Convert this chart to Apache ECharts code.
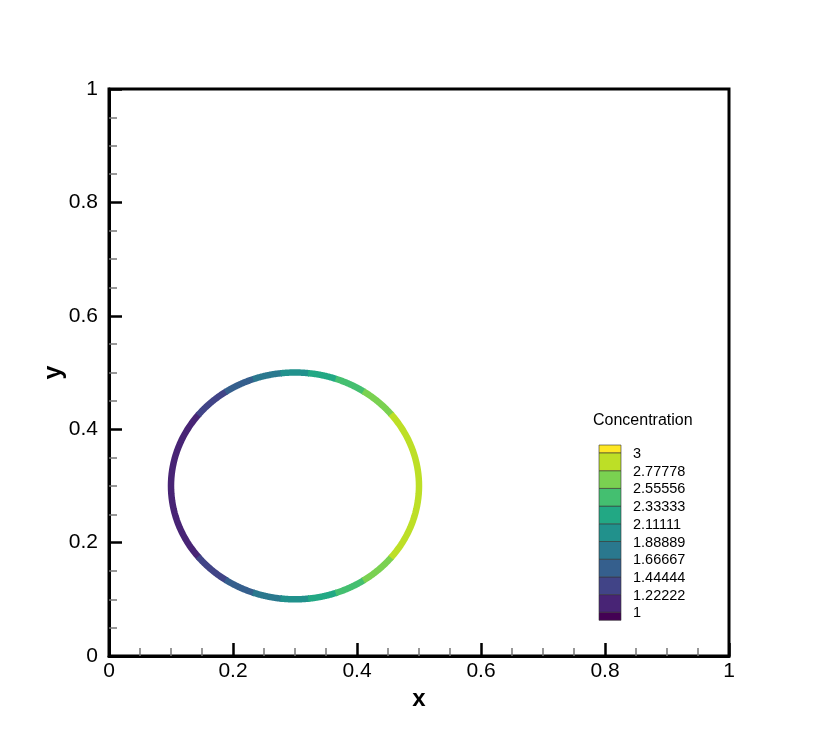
<!DOCTYPE html>
<html>
<head>
<meta charset="utf-8">
<script src="https://cdn.jsdelivr.net/npm/echarts@6/dist/echarts.min.js"></script>
<style>html,body{margin:0;padding:0;background:#fff}#c{width:830px;height:739px}</style>
</head>
<body>
<div id="c"></div>
<script>
// ---- data ----
const levels = [1, 1.22222, 1.44444, 1.66667, 1.88889, 2.11111, 2.33333, 2.55556, 2.77778, 3];
const levelLabels = ['1', '1.22222', '1.44444', '1.66667', '1.88889', '2.11111', '2.33333', '2.55556', '2.77778', '3'];
const bandColors = ['#440154', '#482475', '#414487', '#355f8d', '#2a788e', '#21918c', '#22a884', '#44bf70', '#7ad151', '#bddf26', '#fde725'];
const ringCenter = [0.3, 0.3];
const ringRadius = 0.2;
const concLeft = 1;   // concentration at left edge of ring (x = 0.1)
const concRight = 3;  // concentration at right edge of ring (x = 0.5)
const xTicks = [0, 0.2, 0.4, 0.6, 0.8, 1];
const yTicks = [0, 0.2, 0.4, 0.6, 0.8, 1];

// bands: [cLow, cHigh, colorIndex]
const bands = [];
for (let i = 0; i < levels.length - 1; i++) bands.push([levels[i], levels[i + 1], i + 1]);

const chart = echarts.init(document.getElementById('c'));

function concToX(c) {
  const t = (c - concLeft) / (concRight - concLeft);
  return ringCenter[0] - ringRadius + t * 2 * ringRadius;
}

function renderBand(params, api) {
  const cLo = api.value(0), cHi = api.value(1), ci = api.value(2);
  const xa = Math.max(-1, Math.min(1, (concToX(cLo) - ringCenter[0]) / ringRadius));
  const xb = Math.max(-1, Math.min(1, (concToX(cHi) - ringCenter[0]) / ringRadius));
  const tA = Math.acos(xa), tB = Math.acos(xb); // tB < tA
  const d = 0.006; // tiny overlap to hide seams
  const steps = 40;
  const arcPts = (t0, t1) => {
    const pts = [];
    for (let k = 0; k <= steps; k++) {
      const t = t0 + (t1 - t0) * k / steps;
      pts.push(api.coord([ringCenter[0] + ringRadius * Math.cos(t), ringCenter[1] + ringRadius * Math.sin(t)]));
    }
    return pts;
  };
  let shapes;
  if (xa <= -1) {
    shapes = [arcPts(tB - d, 2 * Math.PI - tB + d)];
  } else if (xb >= 1) {
    shapes = [arcPts(-tA - d, tA + d)];
  } else {
    shapes = [arcPts(tB - d, tA + d), arcPts(2 * Math.PI - tA - d, 2 * Math.PI - tB + d)];
  }
  return {
    type: 'group',
    children: shapes.map(p => ({
      type: 'polyline',
      shape: { points: p },
      style: { fill: null, stroke: bandColors[ci], lineWidth: 6.5, lineCap: 'butt', lineJoin: 'round' }
    }))
  };
}

// legend graphics
const lgX = 599, lgW = 22, lgTop = 453, lgStep = 17.7, endH = 8;
const legendEls = [];
legendEls.push({ type: 'text', left: 593, top: 413, style: { text: 'Concentration', font: '16px "Liberation Sans", Arial, sans-serif', fill: '#000' } });
const nL = levels.length;
const lgBottom = lgTop + (nL - 1) * lgStep;
// top overflow box
legendEls.push({ type: 'rect', shape: { x: lgX, y: lgTop - endH, width: lgW, height: endH }, style: { fill: bandColors[bandColors.length - 1], stroke: '#333', lineWidth: 0.6 } });
for (let i = 0; i < nL - 1; i++) {
  const yTop = lgTop + (nL - 2 - i) * lgStep;
  legendEls.push({ type: 'rect', shape: { x: lgX, y: yTop, width: lgW, height: lgStep }, style: { fill: bandColors[i + 1], stroke: '#333', lineWidth: 0.6 } });
}
legendEls.push({ type: 'rect', shape: { x: lgX, y: lgBottom, width: lgW, height: endH }, style: { fill: bandColors[0], stroke: '#333', lineWidth: 0.6 } });
for (let i = 0; i < nL; i++) {
  const y = lgTop + (nL - 1 - i) * lgStep;
  legendEls.push({ type: 'text', x: 633, y: y + 1, style: { text: levelLabels[i], font: '14.5px "Liberation Sans", Arial, sans-serif', fill: '#000', verticalAlign: 'middle', align: 'left' } });
}

const labelFont = { fontFamily: '"Liberation Sans", Arial, sans-serif', fontSize: 21, color: '#000' };

chart.setOption({
  animation: false,
  backgroundColor: '#fff',
  grid: { left: 109, top: 89, width: 620, height: 567, show: true, borderColor: '#000', borderWidth: 3, backgroundColor: 'transparent' },
  xAxis: {
    type: 'value', min: 0, max: 1, interval: 0.2, splitNumber: 5,
    name: 'x', nameLocation: 'middle', nameGap: 31, nameMoveOverlap: false,
    nameTextStyle: { fontFamily: '"Liberation Sans", Arial, sans-serif', fontSize: 24, fontWeight: 'bold', color: '#000' },
    axisLine: { show: true, lineStyle: { color: '#000', width: 3 } },
    axisTick: { show: true, inside: true, length: 13, lineStyle: { color: '#000', width: 2.5 } },
    minorTick: { show: true, splitNumber: 4, length: 8, lineStyle: { color: '#777', width: 1.5 } },
    splitLine: { show: false },
    axisLabel: Object.assign({ margin: 5, formatter: v => xTicks.includes(+v.toFixed(2)) ? String(+v.toFixed(2)) : '' }, labelFont)
  },
  yAxis: {
    type: 'value', min: 0, max: 1, interval: 0.2,
    name: 'y', nameLocation: 'middle', nameGap: 42, nameMoveOverlap: false,
    nameTextStyle: { fontFamily: '"Liberation Sans", Arial, sans-serif', fontSize: 25, fontWeight: 'bold', color: '#000' },
    axisLine: { show: true, lineStyle: { color: '#000', width: 3 } },
    axisTick: { show: true, inside: true, length: 13, lineStyle: { color: '#000', width: 2.5 } },
    minorTick: { show: true, splitNumber: 4, length: 8, lineStyle: { color: '#777', width: 1.5 } },
    splitLine: { show: false },
    axisLabel: Object.assign({ margin: 11, formatter: v => yTicks.includes(+v.toFixed(2)) ? String(+v.toFixed(2)) : '' }, labelFont)
  },
  series: [{
    type: 'custom',
    renderItem: renderBand,
    data: bands,
    encode: { x: [], y: [] },
    silent: true,
    clip: true
  }],
  graphic: legendEls
});
</script>
</body>
</html>
